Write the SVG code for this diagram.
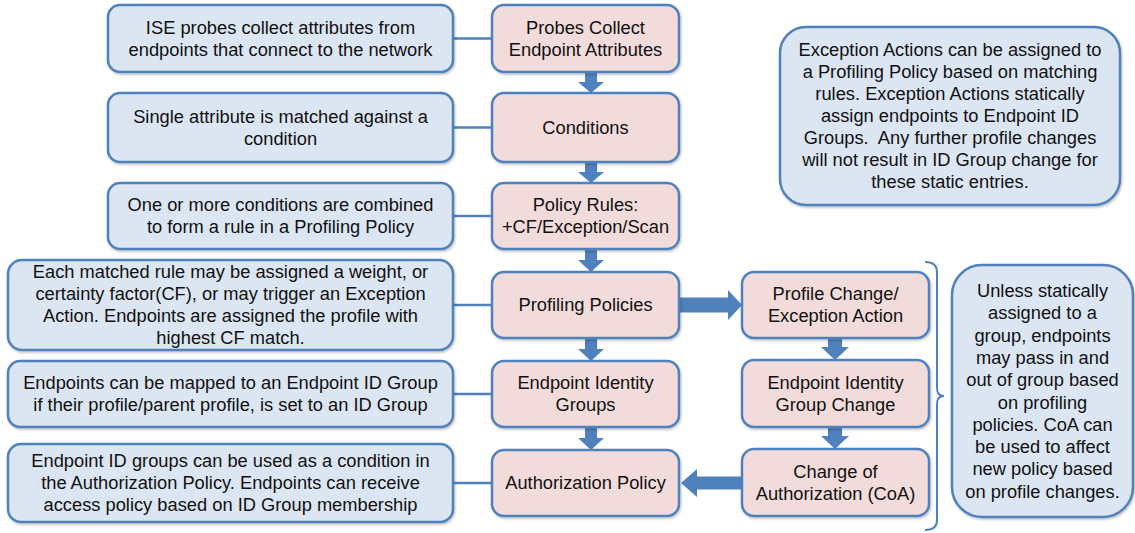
<svg xmlns="http://www.w3.org/2000/svg" width="1135" height="533" viewBox="0 0 1135 533">
  <defs>
    <filter id="shadow" x="-5%" y="-5%" width="110%" height="115%">
      <feDropShadow dx="1" dy="1.5" stdDeviation="1.2" flood-color="#000" flood-opacity="0.25"/>
    </filter>
  </defs>
  <style>
    .note { fill: #dce6f2; stroke: #4f81bd; stroke-width: 2.5; filter: url(#shadow); }
    .step { fill: #f2dcdb; stroke: #4f81bd; stroke-width: 2.5; filter: url(#shadow); }
    .link { stroke: #4f81bd; stroke-width: 2.5; fill: none; }
    .arrow { fill: #4f81bd; stroke: none; }
    .brace { stroke: #4f81bd; stroke-width: 2; fill: none; }
    text { font-family: "Liberation Sans", Arial, sans-serif; font-size: 18.3px; fill: #111; text-anchor: middle; white-space: pre; }
  </style>

  <rect width="1135" height="533" fill="#ffffff"/>

  <!-- connectors: description links, flow arrows, grouping brace -->
  <g id="connectors">
    <line class="link" x1="453" y1="38.5" x2="492" y2="38.5"/>
    <line class="link" x1="453" y1="127.5" x2="492" y2="127.5"/>
    <line class="link" x1="453" y1="216" x2="492" y2="216"/>
    <line class="link" x1="453" y1="305" x2="492" y2="305"/>
    <line class="link" x1="453" y1="394" x2="492" y2="394"/>
    <line class="link" x1="453" y1="483" x2="492" y2="483"/>

    <!-- main column, downward -->
    <path class="arrow" d="M585,72 H597 V82 H604 L591,93 L578,82 H585 Z"/>
    <path class="arrow" d="M585,162 H597 V172 H604 L591,183 L578,172 H585 Z"/>
    <path class="arrow" d="M585,249 H597 V260 H604 L591,272 L578,260 H585 Z"/>
    <path class="arrow" d="M585,338 H597 V349 H604 L591,361 L578,349 H585 Z"/>
    <path class="arrow" d="M585,427 H597 V438 H604 L591,450 L578,438 H585 Z"/>

    <!-- side column, downward -->
    <path class="arrow" d="M828,338 H842 V347 H849 L835,360 L821,347 H828 Z"/>
    <path class="arrow" d="M828,427 H842 V436 H849 L835,449 L821,436 H828 Z"/>

    <!-- across to profile change, back to authorization -->
    <path class="arrow" d="M679,297.5 H728 V290 L742,305 L728,320 V312.5 H679 Z"/>
    <path class="arrow" d="M742,476.5 H697 V469 L681,483 L697,497 V489.5 H742 Z"/>

    <path class="brace" d="M925,262 Q937,262 937,272 V388 Q937,396 944,396 Q937,396 937,404 V520 Q937,530 925,530"/>
  </g>

  <!-- descriptions -->
  <g id="note-probes">
    <rect class="note" x="108" y="5" width="345" height="67" rx="12"/>
    <text x="280.5" y="33.8">ISE probes collect attributes from</text>
    <text x="280.5" y="55.8">endpoints that connect to the network</text>
  </g>
  <g id="note-conditions">
    <rect class="note" x="108" y="93" width="345" height="69" rx="12"/>
    <text x="280.5" y="122.8">Single attribute is matched against a</text>
    <text x="280.5" y="144.8">condition</text>
  </g>
  <g id="note-rules">
    <rect class="note" x="108" y="183" width="345" height="66" rx="12"/>
    <text x="280.5" y="211.3">One or more conditions are combined</text>
    <text x="280.5" y="233.3">to form a rule in a Profiling Policy</text>
  </g>
  <g id="note-policies">
    <rect class="note" x="8" y="260" width="445" height="90" rx="14"/>
    <text x="230.5" y="278.3">Each matched rule may be assigned a weight, or</text>
    <text x="230.5" y="300.3">certainty factor(CF), or may trigger an Exception</text>
    <text x="230.5" y="322.3">Action. Endpoints are assigned the profile with</text>
    <text x="230.5" y="344.3">highest CF match.</text>
  </g>
  <g id="note-groups">
    <rect class="note" x="8" y="361" width="445" height="66" rx="12"/>
    <text x="230.5" y="389.3">Endpoints can be mapped to an Endpoint ID Group</text>
    <text x="230.5" y="411.3">if their profile/parent profile, is set to an ID Group</text>
  </g>
  <g id="note-authz">
    <rect class="note" x="8" y="444" width="445" height="78" rx="13"/>
    <text x="230.5" y="467.3">Endpoint ID groups can be used as a condition in</text>
    <text x="230.5" y="489.3">the Authorization Policy. Endpoints can receive</text>
    <text x="230.5" y="511.3">access policy based on ID Group membership</text>
  </g>

  <!-- main flow -->
  <g id="step-probes">
    <rect class="step" x="492" y="5" width="187" height="67" rx="12"/>
    <text x="585.5" y="33.8">Probes Collect</text>
    <text x="585.5" y="55.8">Endpoint Attributes</text>
  </g>
  <g id="step-conditions">
    <rect class="step" x="492" y="93" width="187" height="69" rx="12"/>
    <text x="585.5" y="133.8">Conditions</text>
  </g>
  <g id="step-rules">
    <rect class="step" x="492" y="183" width="187" height="66" rx="12"/>
    <text x="585.5" y="211.3">Policy Rules:</text>
    <text x="585.5" y="233.3">+CF/Exception/Scan</text>
  </g>
  <g id="step-policies">
    <rect class="step" x="492" y="272" width="187" height="66" rx="12"/>
    <text x="585.5" y="311.3">Profiling Policies</text>
  </g>
  <g id="step-groups">
    <rect class="step" x="492" y="361" width="187" height="66" rx="12"/>
    <text x="585.5" y="389.3">Endpoint Identity</text>
    <text x="585.5" y="411.3">Groups</text>
  </g>
  <g id="step-authz">
    <rect class="step" x="492" y="450" width="187" height="66" rx="12"/>
    <text x="585.5" y="489.3">Authorization Policy</text>
  </g>

  <!-- side flow -->
  <g id="step-profile-change">
    <rect class="step" x="742" y="272" width="187" height="66" rx="12"/>
    <text x="835.5" y="300.3">Profile Change/</text>
    <text x="835.5" y="322.3">Exception Action</text>
  </g>
  <g id="step-group-change">
    <rect class="step" x="742" y="360" width="187" height="67" rx="12"/>
    <text x="835.5" y="388.8">Endpoint Identity</text>
    <text x="835.5" y="410.8">Group Change</text>
  </g>
  <g id="step-coa">
    <rect class="step" x="742" y="449" width="187" height="67" rx="12"/>
    <text x="835.5" y="477.8">Change of</text>
    <text x="835.5" y="499.8">Authorization (CoA)</text>
  </g>

  <!-- side notes -->
  <g id="note-exception">
    <rect class="note" x="780" y="27" width="340" height="178" rx="26"/>
    <text x="950" y="56.3">Exception Actions can be assigned to</text>
    <text x="950" y="78.3">a Profiling Policy based on matching</text>
    <text x="950" y="100.3">rules. Exception Actions statically</text>
    <text x="950" y="122.3">assign endpoints to Endpoint ID</text>
    <text x="950" y="144.3">Groups.  Any further profile changes</text>
    <text x="950" y="166.3">will not result in ID Group change for</text>
    <text x="950" y="188.3">these static entries.</text>
  </g>
  <g id="note-dynamic">
    <rect class="note" x="952" y="265" width="181" height="252" rx="30"/>
    <text x="1042.5" y="297">Unless statically</text>
    <text x="1042.5" y="319.3">assigned to a</text>
    <text x="1042.5" y="341.6">group, endpoints</text>
    <text x="1042.5" y="363.9">may pass in and</text>
    <text x="1042.5" y="386.2">out of group based</text>
    <text x="1042.5" y="408.5">on profiling</text>
    <text x="1042.5" y="430.8">policies. CoA can</text>
    <text x="1042.5" y="453.1">be used to affect</text>
    <text x="1042.5" y="475.4">new policy based</text>
    <text x="1042.5" y="497.7">on profile changes.</text>
  </g>
</svg>
